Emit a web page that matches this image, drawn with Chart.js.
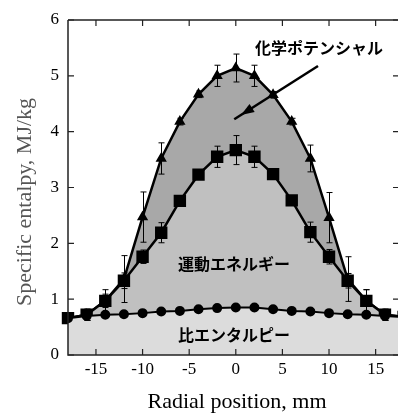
<!DOCTYPE html>
<html>
<head>
<meta charset="utf-8">
<script src="https://cdn.jsdelivr.net/npm/chart.js@4/dist/chart.umd.min.js"></script>
<style>
html,body{margin:0;padding:0;background:#ffffff;overflow:hidden;}
canvas{display:block;}
</style>
</head>
<body>
<canvas id="enthalpyChart" width="398" height="414"></canvas>
<script>
// ===========================================
// DATA
// ===========================================

// Radial positions, mm (18 lies past the right edge of the frame)
const positions = [-18,-16,-14,-12,-10,-8,-6,-4,-2,0,2,4,6,8,10,12,14,16,18];

// 比エンタルピー (circles)
const enthalpy = [0.66,0.70,0.72,0.73,0.75,0.78,0.79,0.82,0.84,0.85,0.85,0.82,0.79,0.78,0.75,0.73,0.72,0.70,0.68];

// 運動エネルギー (squares)
const kinetic = [0.66,0.72,0.97,1.33,1.76,2.19,2.76,3.23,3.55,3.67,3.55,3.24,2.77,2.20,1.76,1.33,0.97,0.72,0.68];
const kineticErr = [0,0.10,0.12,0.14,0.12,0.18,0.05,0.05,0.19,0.26,0.19,0.05,0.05,0.18,0.13,0.13,0.20,0.10,0];

// 化学ポテンシャル (triangles)
const chemical = [0.66,0.72,0.97,1.36,2.47,3.52,4.18,4.67,5.00,5.14,5.00,4.66,4.18,3.52,2.46,1.36,0.97,0.72,0.68];
const chemicalErr = [0,0.10,0.20,0.42,0.45,0.28,0.06,0.06,0.19,0.25,0.19,0.06,0.06,0.24,0.45,0.40,0.20,0.10,0];

// Tick labels
const xTicks = [-15,-10,-5,0,5,10,15];
const yTicks = [0,1,2,3,4,5,6];

// Texts
const xTitle = "Radial position, mm";
const yTitle = "Specific entalpy, MJ/kg";
const labelChemical = "化学ポテンシャル";
const labelKinetic = "運動エネルギー";
const labelEnthalpy = "比エンタルピー";

const toPoints = (ys) => positions.map((x,i) => ({x:x, y:ys[i]}));

// ===========================================
// PLOT AREA RUNS TO THE RIGHT EDGE
// ===========================================

const fullWidth = {

id:"fullWidth",

afterLayout(chart){

    const area = chart.chartArea;
    const xs = chart.scales.x;

    area.right = chart.width;
    area.width = area.right - area.left;

    xs.right = area.right;
    xs.width = area.width;
    xs.configure();

}

};

// ===========================================
// FRAME, INWARD TICKS, ERROR BARS, TEXTS
// ===========================================

const decorations = {

id:"decorations",

afterDatasetsDraw(chart){

    const ctx = chart.ctx;
    const area = chart.chartArea;
    const xs = chart.scales.x;
    const ys = chart.scales.y;

    ctx.save();

    // error bars
    ctx.strokeStyle = "#000000";
    ctx.lineWidth = 1;

    [[chemical,chemicalErr],[kinetic,kineticErr]].forEach(pair => {

        pair[0].forEach((v,i) => {

            const e = pair[1][i];
            if(!e) return;

            const px = Math.round(xs.getPixelForValue(positions[i])) + 0.5;
            const top = ys.getPixelForValue(v + e);
            const bot = ys.getPixelForValue(v - e);

            ctx.beginPath();
            ctx.moveTo(px, top); ctx.lineTo(px, bot);
            ctx.moveTo(px - 3, top); ctx.lineTo(px + 3, top);
            ctx.moveTo(px - 3, bot); ctx.lineTo(px + 3, bot);
            ctx.stroke();

        });

    });

    // frame
    ctx.strokeStyle = "#222222";
    ctx.lineWidth = 1.5;
    ctx.beginPath();
    ctx.moveTo(area.left, area.top);
    ctx.lineTo(area.right, area.top);
    ctx.moveTo(area.left, area.top);
    ctx.lineTo(area.left, area.bottom);
    ctx.lineTo(area.right, area.bottom);
    ctx.stroke();

    // inward ticks
    ctx.lineWidth = 1.2;
    ctx.beginPath();

    xs.ticks.forEach(t => {
        const px = xs.getPixelForValue(t.value);
        ctx.moveTo(px, area.bottom); ctx.lineTo(px, area.bottom - 6);
        ctx.moveTo(px, area.top); ctx.lineTo(px, area.top + 6);
    });

    ys.ticks.forEach(t => {
        const py = ys.getPixelForValue(t.value);
        ctx.moveTo(area.left, py); ctx.lineTo(area.left + 6, py);
        ctx.moveTo(area.right, py); ctx.lineTo(area.right - 5, py);
    });

    ctx.stroke();

    // x tick labels
    ctx.fillStyle = "#000000";
    ctx.font = "17px 'Liberation Serif'";
    ctx.textAlign = "center";
    ctx.textBaseline = "middle";

    xs.ticks.forEach(t => {
        ctx.fillText(String(t.value), xs.getPixelForValue(t.value), area.bottom + 15);
    });

    // arrow to the chemical potential band
    const ax1 = 318, ay1 = 66, ax2 = 241, ay2 = 115;
    const ang = Math.atan2(ay2 - ay1, ax2 - ax1);

    ctx.strokeStyle = "#000000";
    ctx.lineWidth = 2.5;
    ctx.beginPath();
    ctx.moveTo(ax1, ay1);
    ctx.lineTo(ax2 + 8 * Math.cos(ang), ay2 + 8 * Math.sin(ang));
    ctx.stroke();

    ctx.beginPath();
    ctx.moveTo(ax2, ay2);
    ctx.lineTo(ax2 - 14 * Math.cos(ang - 0.35), ay2 - 14 * Math.sin(ang - 0.35));
    ctx.lineTo(ax2 - 14 * Math.cos(ang + 0.35), ay2 - 14 * Math.sin(ang + 0.35));
    ctx.closePath();
    ctx.fill();

    // band labels
    ctx.font = "bold 16px 'Noto Sans CJK JP'";
    ctx.textAlign = "left";
    ctx.fillText(labelChemical, 255, 48);
    ctx.fillText(labelKinetic, 178, 264);
    ctx.fillText(labelEnthalpy, 178, 335);

    // axis titles
    ctx.font = "22px 'Liberation Serif'";
    ctx.textAlign = "center";
    ctx.fillText(xTitle, 237, 402);

    ctx.save();
    ctx.translate(25, 202);
    ctx.rotate(-Math.PI / 2);
    ctx.fillStyle = "#555555";
    ctx.fillText(yTitle, 0, 0);
    ctx.restore();

    ctx.restore();

}

};

// ===========================================
// CHART
// ===========================================

new Chart(
document.getElementById("enthalpyChart"),
{

type:"line",

data:{

datasets:[

{
label:labelEnthalpy,
data:toPoints(enthalpy),
borderColor:"#000000",
backgroundColor:"#dcdcdc",
pointBackgroundColor:"#000000",
pointBorderColor:"#000000",
pointStyle:"circle",
pointRadius:4,
borderWidth:2,
fill:"origin",
clip:false,
tension:0
},

{
label:labelKinetic,
data:toPoints(kinetic),
borderColor:"#000000",
backgroundColor:"#c0c0c0",
pointBackgroundColor:"#000000",
pointBorderColor:"#000000",
pointStyle:"rect",
pointRadius:7,
borderWidth:2.5,
fill:"-1",
clip:false,
tension:0
},

{
label:labelChemical,
data:toPoints(chemical),
borderColor:"#000000",
backgroundColor:"#a8a8a8",
pointBackgroundColor:"#000000",
pointBorderColor:"#000000",
pointStyle:"triangle",
pointRadius:4,
borderWidth:2.5,
fill:"-1",
clip:false,
tension:0
}

]

},

options:{

responsive:false,

animation:false,

layout:{
padding:{top:20,right:0,left:0,bottom:0}
},

plugins:{
legend:{display:false},
tooltip:{enabled:false}
},

scales:{

x:{
type:"linear",
min:-18,
max:17.4,
afterBuildTicks:(scale) => {
    scale.ticks = xTicks.map(v => ({value:v}));
},
afterFit:(scale) => {
    scale.height = 59;
},
grid:{display:false,drawTicks:false},
border:{display:false},
// labels are drawn by the decorations plugin
ticks:{display:false}
},

y:{
min:0,
max:6,
afterBuildTicks:(scale) => {
    scale.ticks = yTicks.map(v => ({value:v}));
},
afterFit:(scale) => {
    scale.width = 68;
},
grid:{display:false,drawTicks:false},
border:{display:false},
ticks:{
color:"#000000",
padding:9,
font:{family:"Liberation Serif",size:17}
}
}

}

},

plugins:[fullWidth, decorations]

});
</script>
</body>
</html>
